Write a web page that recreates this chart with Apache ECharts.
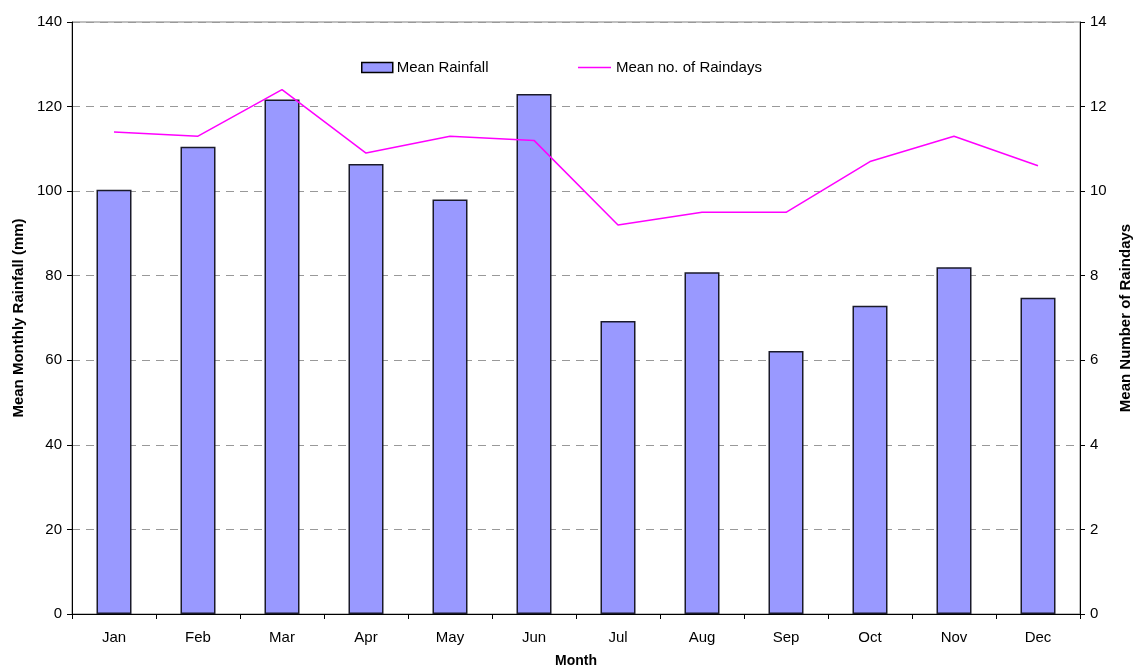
<!DOCTYPE html>
<html><head><meta charset="utf-8">
<script src="https://cdn.jsdelivr.net/npm/echarts@6/dist/echarts.min.js"></script>
<style>html,body{margin:0;padding:0;background:#fff}#c{width:1134px;height:668px}</style>
</head><body><div id="c"></div>
<script>
const months = ['Jan','Feb','Mar','Apr','May','Jun','Jul','Aug','Sep','Oct','Nov','Dec'];
const rainfall = [100.3, 110.5, 121.7, 106.4, 98.0, 123.0, 69.3, 80.8, 62.2, 72.9, 82.0, 74.8];
const raindays = [11.4, 11.3, 12.4, 10.9, 11.3, 11.2, 9.2, 9.5, 9.5, 10.7, 11.3, 10.6];
const FONT = '"Liberation Sans", Arial, sans-serif';
const chart = echarts.init(document.getElementById('c'));
chart.setOption({
  animation: false,
  textStyle: { fontFamily: FONT },
  grid: { left: 72, right: 54, top: 22, bottom: 54, show: true, borderColor: '#808080', borderWidth: 1,
          containLabel: false, outerBoundsMode: 'none' },
  legend: [
    { data: [{ name: 'Mean Rainfall', icon: 'rect' }], left: 361, top: 60, padding: 0,
      itemWidth: 31, itemHeight: 10, itemGap: 4,
      itemStyle: { borderColor: '#000', borderWidth: 1.5 },
      textStyle: { fontFamily: FONT, fontSize: 15, color: '#000', padding: [0,0,0,-1] } },
    { data: [{ name: 'Mean no. of Raindays', icon: 'rect' }], left: 578, top: 60, padding: 0,
      itemWidth: 33, itemHeight: 1.5, itemGap: 4,
      itemStyle: { color: '#ff00ff', borderWidth: 0 },
      textStyle: { fontFamily: FONT, fontSize: 15, color: '#000', padding: [0,0,0,0] } }
  ],
  xAxis: {
    type: 'category', data: months,
    name: 'Month', nameLocation: 'middle', nameGap: 40,
    nameTextStyle: { fontFamily: FONT, fontSize: 14, fontWeight: 'bold', color: '#000' },
    axisLine: { lineStyle: { color: '#000', width: 1 } },
    axisTick: { show: true, length: 5, lineStyle: { color: '#000' } },
    axisLabel: { fontFamily: FONT, fontSize: 15, color: '#000', margin: 16 }
  },
  yAxis: [
    { type: 'value', min: 0, max: 140, interval: 20,
      name: 'Mean Monthly Rainfall (mm)', nameLocation: 'middle', nameGap: 45,
      nameTextStyle: { fontFamily: FONT, fontSize: 15, fontWeight: 'bold', color: '#000' },
      axisLine: { show: true, lineStyle: { color: '#000' } },
      axisTick: { show: true, length: 5, lineStyle: { color: '#000' } },
      axisLabel: { fontFamily: FONT, fontSize: 15, color: '#000', margin: 10 },
      splitLine: { show: true, lineStyle: { color: '#999', type: [8, 6], width: 1 } }
    },
    { type: 'value', min: 0, max: 14, interval: 2,
      name: 'Mean Number of Raindays', nameLocation: 'middle', nameGap: 38,
      nameTextStyle: { fontFamily: FONT, fontSize: 15, fontWeight: 'bold', color: '#000' },
      axisLine: { show: true, lineStyle: { color: '#000' } },
      axisTick: { show: true, length: 5, lineStyle: { color: '#000' } },
      axisLabel: { fontFamily: FONT, fontSize: 15, color: '#000', margin: 10 },
      splitLine: { show: false }
    }
  ],
  series: [
    { name: 'Mean Rainfall', type: 'bar', data: rainfall, barWidth: 35, yAxisIndex: 0,
      itemStyle: { color: '#9999ff', borderColor: '#1a1a2a', borderWidth: 1.5 } },
    { name: 'Mean no. of Raindays', type: 'line', data: raindays, yAxisIndex: 1,
      showSymbol: false, symbol: 'none', lineStyle: { color: '#ff00ff', width: 1.5 },
      itemStyle: { color: '#ff00ff' } }
  ]
});
</script></body></html>
